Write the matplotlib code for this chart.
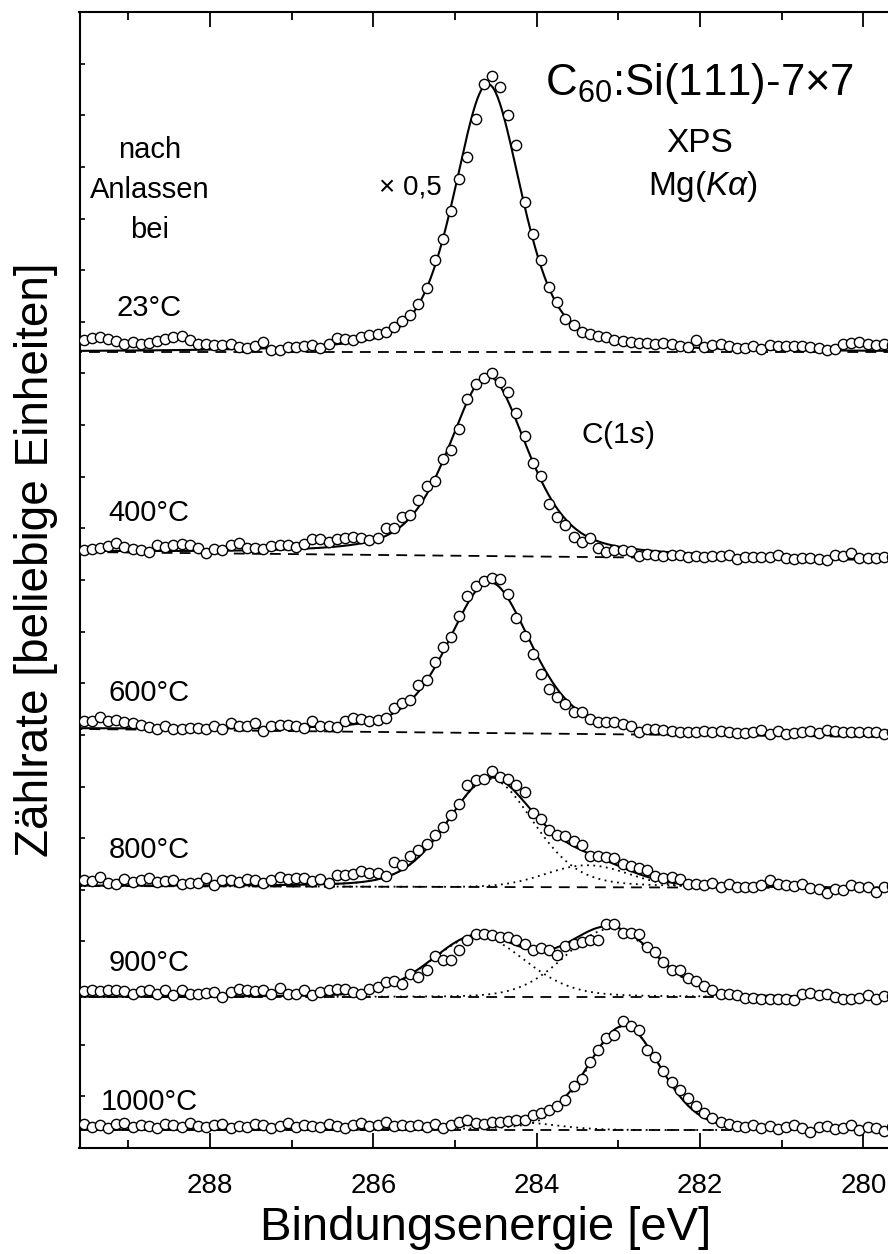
import numpy as np
import matplotlib
matplotlib.use('Agg')
import matplotlib.pyplot as plt
from matplotlib.ticker import MultipleLocator

plt.rcParams['font.family'] = ['Liberation Sans', 'DejaVu Sans']
plt.rcParams['mathtext.fontset'] = 'custom'
plt.rcParams['mathtext.rm'] = 'Liberation Sans'
plt.rcParams['mathtext.it'] = 'Liberation Sans:italic'

# Messpunkte: 0,1 eV Schritte, 289,65 ... 279,65 eV
energie = 289.65 - 0.1 * np.arange(101)

# Intensitaet ueber dem linearen Untergrund (willk. Einheiten)
i_23 = [10, 12, 14, 15, 13, 11, 8, 10, 8, 9, 11, 13, 15, 16, 12, 8, 8, 7, 7, 8,
        5, 4, 6, 10, 2, 2, 5, 5, 6, 7, 4, 8, 14, 13, 12, 15, 17, 18, 20, 25,
        31, 37, 48, 64, 92, 113, 141, 173, 195, 233, 268, 276, 265, 237, 207, 150, 118, 92, 65, 50,
        33, 27, 20, 18, 16, 15, 12, 11, 10, 9, 9, 8, 9, 8, 6, 5, 12, 5, 7, 8,
        6, 4, 4, 6, 3, 7, 6, 6, 6, 6, 5, 4, 2, 3, 8, 9, 10, 8, 7, 8, 7]
i_400 = [3, 2, 3, 4, 6, 9, 5, 4, 3, 1, 8, 6, 8, 9, 8, 5, 0, 4, 3, 8,
         11, 6, 6, 5, 8, 9, 9, 7, 10, 15, 15, 12, 16, 17, 18, 17, 15, 17, 27, 27,
         38, 40, 55, 69, 75, 97, 106, 127, 157, 172, 178, 183, 174, 164, 143, 120, 93, 81, 53, 40,
         32, 20, 15, 19, 9, 5, 7, 7, 6, 2, 4, 3, 2, 3, 3, 1, 2, 1, 2, 2,
         3, 0, 2, 2, 2, 2, 4, 1, 0, 1, 1, 0, -1, 4, 4, 7, 2, 2, 2, 3, 3]
i_600 = [4, 8, 8, 12, 8, 9, 7, 7, 5, 3, 1, 4, 1, 1, 2, 2, 1, 4, 1, 7,
         5, 5, 8, 0, 5, 6, 6, 5, 3, 10, 5, 5, 5, 11, 14, 13, 11, 12, 14, 24,
         29, 32, 47, 52, 71, 86, 96, 117, 137, 147, 152, 155, 154, 139, 115, 97, 79, 60, 45, 37,
         30, 22, 22, 15, 12, 12, 12, 10, 8, 3, 6, 6, 5, 4, 3, 3, 3, 4, 3, 4,
         3, 3, 3, 4, 6, 2, 5, 2, 3, 4, 5, 3, 6, 5, 5, 5, 5, 5, 5, 3, 5]
i_800 = [4, 6, 5, 9, 3, 2, 7, 4, 6, 8, 4, 5, 6, 2, 3, 3, 8, 1, 6, 6,
         4, 7, 6, 3, 6, 9, 8, 9, 9, 6, 8, 4, 12, 12, 13, 16, 14, 14, 11, 25,
         22, 31, 37, 43, 52, 60, 72, 83, 102, 107, 108, 116, 110, 108, 102, 95, 74, 68, 57, 52,
         51, 46, 42, 31, 31, 30, 29, 23, 21, 19, 17, 11, 9, 10, 8, 4, 4, 3, 5, 1,
         4, 1, 1, 1, 3, 8, 4, 3, 2, 4, 0, -1, -5, -1, -2, 3, 1, 1, -4, 1, 2]
i_900 = [2, 6, 7, 6, 7, 7, 6, 3, 6, 7, 3, 7, 2, 7, 3, 3, 4, 5, 0, 5,
         8, 7, 6, 7, 3, 9, 3, 3, 7, 2, 5, 7, 8, 8, 5, 3, 8, 10, 15, 16,
         13, 23, 20, 27, 41, 37, 37, 47, 57, 63, 63, 62, 60, 60, 57, 53, 47, 49, 47, 42,
         51, 53, 55, 57, 57, 73, 73, 64, 64, 63, 50, 45, 35, 27, 27, 19, 16, 11, 7, 3,
         3, 2, -1, -1, -2, -2, -2, -2, -3, 3, 4, 2, 3, 0, -2, -2, -1, 2, -2, 1, 1]
i_1000 = [4, 6, 3, 5, 2, 6, 7, 3, 5, 4, 2, 6, 5, 3, 7, 4, 3, 5, 6, 2,
          4, 3, 6, 5, 2, 4, 7, 3, 5, 4, 3, 6, 4, 2, 5, 7, 4, 5, 8, 4,
          5, 4, 5, 3, 6, 2, 5, 8, 10, 7, 6, 8, 8, 9, 10, 10, 15, 17, 20, 24,
          30, 44, 51, 68, 80, 92, 95, 109, 104, 100, 80, 73, 59, 48, 40, 32, 24, 17, 12, 8,
          6, 4, 3, 5, 2, 4, 1, 3, 5, 2, -2, 3, 4, 1, 2, 5, 0, 3, 2, -1, 3]

# Untergrund (links bei 289,6 eV, rechts bei 279,7 eV)
ug_links = [796, 596, 419, 262, 151, 18]
ug_rechts = [796, 588, 411, 260, 151, 18]

# Fitkomponenten: [Lage eV, Hoehe, FWHM eV, Lorentz-Anteil]
fit_23 = [[284.6, 268, 0.97, 0.45]]
fit_400 = [[284.6, 180, 1.15, 0.5]]
fit_600 = [[284.58, 151, 1.2, 0.4]]
fit_800 = [[284.57, 108, 1.25, 0.25], [283.38, 22, 1.2, 0.0]]
fit_900 = [[284.72, 61, 1.35, 0.2], [283.1, 68, 1.3, 0.1]]
fit_1000 = [[282.93, 104, 1.05, 0.2], [284.3, 8, 1.2, 0.0]]

temperaturen = ['23°C', '400°C', '600°C', '800°C', '900°C', '1000°C']
label_y = [308, 513, 693, 850, 963, 1102]   # Pixel von oben

spektren = [i_23, i_400, i_600, i_800, i_900, i_1000]
fits = [fit_23, fit_400, fit_600, fit_800, fit_900, fit_1000]


def pseudo_voigt(x, c, h, w, eta):
    d2 = 4 * ((x - c) / w) ** 2
    return h * ((1 - eta) * np.exp(-np.log(2) * d2) + eta / (1 + d2))


W, H = 888, 1254
fig = plt.figure(figsize=(W / 100, H / 100), dpi=100)
ax = fig.add_axes([79.5 / W, 1 - 1148 / H, (888 - 79.5) / W, 1136 / H])

e_fein = np.linspace(289.7, 279.6, 800)

for werte, fit, l, r in zip(spektren, fits, ug_links, ug_rechts):
    ug = np.interp(energie, [279.7, 289.6], [r, l])
    ug_f = np.interp(e_fein, [279.7, 289.6], [r, l])
    ax.plot(e_fein, ug_f, color='k', lw=1.3, ls=(0, (6, 4)), zorder=1)
    summe = ug_f.copy()
    for c, h, w, eta in fit:
        komp = pseudo_voigt(e_fein, c, h, w, eta)
        summe += komp
        if len(fit) > 1:
            ax.plot(e_fein, ug_f + komp, color='k', lw=1.3, ls=(0, (1, 2.5)), zorder=1)
    ax.plot(e_fein, summe, color='k', lw=1.5, zorder=2)
    ax.plot(energie, ug + np.array(werte), 'o', ms=7.4, mfc='white', mec='k',
            mew=1.0, zorder=3)

ax.set_xlim(289.6, 279.7)
ax.set_ylim(0, 1136)
ax.xaxis.set_major_locator(MultipleLocator(2))
ax.xaxis.set_minor_locator(MultipleLocator(1))
ax.set_yticks(np.linspace(0, 1136, 23))
ax.set_yticklabels([])
ax.tick_params(axis='x', which='both', direction='in', top=True, bottom=True,
               labelsize=20, pad=18)
ax.tick_params(axis='x', which='major', length=11, width=1.3)
ax.tick_params(axis='x', which='minor', length=6, width=1.3)
ax.tick_params(axis='y', direction='in', length=3.5, width=1.2, left=True, right=False)
ax.spines['right'].set_visible(False)
for s in ['left', 'top', 'bottom']:
    ax.spines[s].set_linewidth(1.5)


def text(x, y, s, **kw):
    fig.text(x / W, 1 - y / H, s, ha='center', va='center', **kw)


text(486, 1228, 'Bindungsenergie [eV]', fontsize=34)
text(36, 560, 'Zählrate [beliebige Einheiten]', fontsize=33, rotation=90)

text(150, 150, 'nach', fontsize=21)
text(150, 190, 'Anlassen', fontsize=21)
text(150, 230, 'bei', fontsize=21)
for t, y in zip(temperaturen, label_y):
    text(149, y, t, fontsize=21)

text(410, 187, '× 0,5', fontsize=20)
text(700, 83, r'C$_{60}$:Si(111)-7×7', fontsize=31.5)
text(700, 143, 'XPS', fontsize=24)
text(703, 187, r'Mg($K\alpha$)', fontsize=24)
text(618, 435, r'C($\mathit{1s}$)', fontsize=21.5)

fig.savefig('out.png', dpi=100)
